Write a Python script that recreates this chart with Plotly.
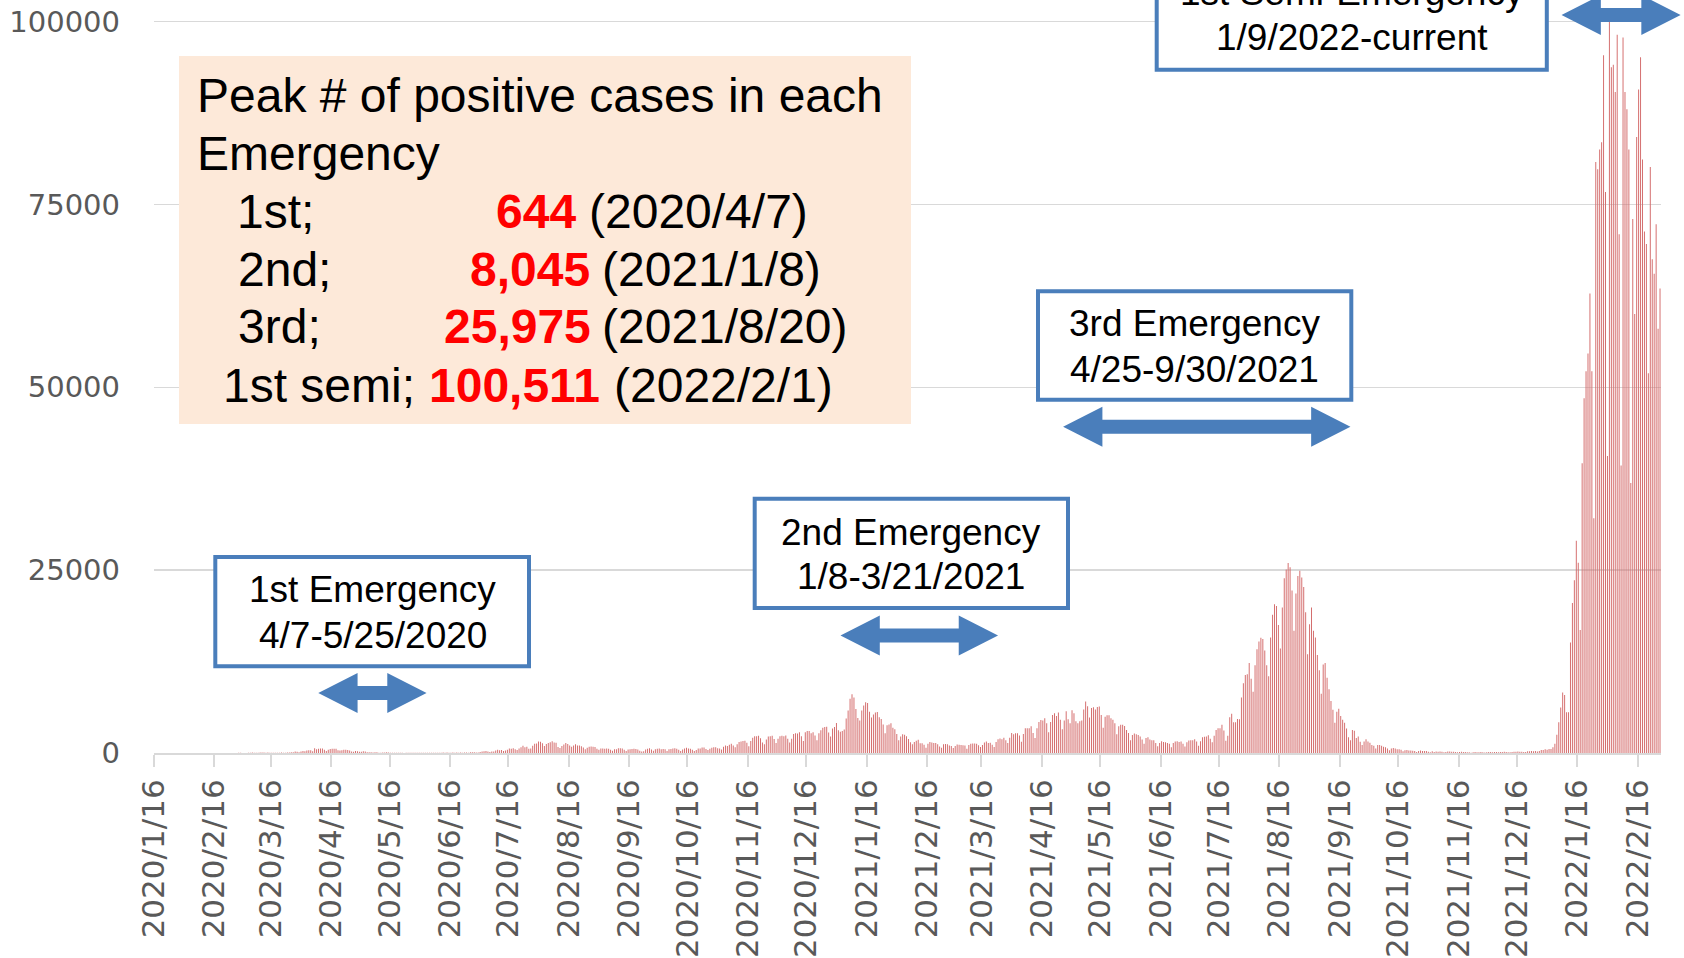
import pandas as pd
import plotly.graph_objects as go

# ---------------- data (daily new positive cases) ----------------
cases_2020_01 = [1, 0, 0, 0, 0, 0, 0, 0, 1, 1, 0, 0, 1, 2, 0, 1]  # from 2020-01-16
cases_2020_02 = [3, 0, 0, 1, 0, 2, 0, 0, 1, 0, 0, 1, 4, 5, 7, 8, 6, 6, 9, 10, 12, 8, 6, 12, 14, 12, 14, 23, 19]
cases_2020_03 = [16, 15, 14, 30, 33, 59, 40, 30, 28, 52, 54, 56, 40, 64, 32, 30, 41, 41, 38, 36, 53, 39, 40, 65, 71, 98, 112, 201, 168, 86, 220]
cases_2020_04 = [265, 235, 351, 367, 383, 252, 644, 511, 575, 600, 620, 460, 285, 457, 548, 574, 590, 568, 372, 354, 370, 442, 437, 410, 353, 210, 184, 278, 228, 187]
cases_2020_05 = [167, 246, 189, 110, 94, 116, 72, 94, 110, 50, 47, 72, 55, 95, 56, 43, 26, 32, 40, 37, 23, 28, 17, 25, 21, 24, 37, 43, 38, 37, 27]
cases_2020_06 = [40, 51, 36, 40, 38, 37, 41, 21, 42, 35, 41, 55, 44, 72, 46, 28, 52, 43, 68, 40, 55, 38, 58, 57, 49, 107, 105, 100, 73, 85]
cases_2020_07 = [127, 196, 250, 274, 210, 150, 207, 208, 356, 428, 390, 407, 259, 330, 457, 622, 592, 666, 510, 418, 631, 794, 981, 781, 838, 597, 600, 985, 1264, 1301, 1580]
cases_2020_08 = [1536, 1332, 963, 1237, 1356, 1483, 1595, 1443, 1415, 818, 696, 966, 1176, 1360, 1227, 1027, 856, 1012, 1180, 1036, 1009, 934, 735, 497, 708, 862, 896, 838, 827, 573, 440]
cases_2020_09 = [627, 601, 595, 612, 579, 445, 297, 504, 498, 651, 644, 616, 437, 269, 491, 525, 539, 592, 549, 469, 316, 205, 223, 477, 571, 651, 476, 297, 518, 591]
cases_2020_10 = [626, 523, 552, 501, 282, 496, 545, 611, 656, 567, 461, 264, 474, 617, 702, 623, 587, 431, 289, 421, 620, 601, 750, 761, 535, 398, 573, 703, 802, 769, 666]
cases_2020_11 = [610, 490, 850, 1030, 940, 1130, 1250, 1010, 780, 1200, 1500, 1580, 1650, 1680, 1400, 930, 1640, 2100, 2280, 2300, 2350, 2000, 1450, 1180, 1850, 2250, 2300, 2350, 1900, 1350]
cases_2020_12 = [1950, 2300, 2350, 2300, 2400, 1950, 1450, 1950, 2600, 2700, 2650, 2850, 2300, 1650, 2850, 3000, 3000, 2700, 2850, 2400, 1750, 2700, 3100, 3450, 3550, 3600, 2800, 2250, 3350, 3550, 4100]
cases_2021_01 = [3100, 2900, 3000, 3200, 4700, 5800, 7400, 8045, 7600, 6000, 4800, 4450, 5800, 6500, 6950, 6850, 5650, 4850, 5250, 5550, 5600, 4900, 4650, 3900, 2700, 3800, 3900, 4050, 3450, 3250, 2600]
cases_2021_02 = [1750, 2250, 2550, 2500, 2300, 1900, 1480, 1180, 1520, 1660, 1820, 1320, 1320, 1120, 730, 1280, 1500, 1420, 1370, 1350, 1180, 880, 730, 1180, 1240, 1180, 1030, 960]
cases_2021_03 = [680, 970, 1150, 1140, 1080, 1050, 1040, 590, 1110, 1280, 1300, 1300, 1260, 1060, 820, 1110, 1450, 1570, 1380, 1400, 1120, 810, 1490, 1870, 1970, 1870, 2070, 1750, 1360, 2070, 2750]
cases_2021_04 = [2550, 2700, 2700, 2400, 1540, 2600, 3400, 3400, 3400, 3650, 2730, 2060, 3400, 4250, 4500, 4450, 4750, 4050, 2850, 4250, 5200, 5450, 5050, 5550, 4550, 3250, 4450, 5700, 4600, 4050]
cases_2021_05 = [5850, 5450, 4350, 4050, 4350, 4450, 5950, 7050, 6400, 4850, 6150, 6250, 5950, 6300, 6350, 5200, 3450, 4950, 5150, 5150, 4750, 4550, 4050, 2550, 3650, 3850, 3850, 3700, 3150, 2750, 1750]
cases_2021_06 = [2450, 2650, 2550, 2450, 2250, 1850, 1270, 2050, 2150, 1850, 1750, 1750, 1370, 910, 1370, 1610, 1510, 1460, 1370, 1270, 780, 1370, 1560, 1610, 1510, 1560, 1270, 880, 1460, 1710]
cases_2021_07 = [1750, 1740, 1880, 1580, 990, 1610, 2160, 2220, 2250, 2420, 1950, 1480, 2370, 3150, 3400, 3400, 3850, 3080, 1660, 2350, 4900, 5350, 4200, 4200, 4650, 4600, 7600, 9550, 10650, 10750, 12300]
cases_2021_08 = [10150, 8380, 12000, 14200, 15250, 15750, 15600, 14000, 12000, 10500, 15800, 18900, 20350, 20100, 17500, 14300, 19900, 23900, 25100, 25975, 25400, 22200, 16700, 21800, 24200, 24900, 24000, 22700, 19250, 13500, 17600]
cases_2021_09 = [19900, 16700, 15800, 13400, 11300, 8100, 12100, 12300, 10300, 8700, 7100, 5900, 4150, 5650, 6050, 5050, 4550, 4150, 3350, 2150, 1750, 3150, 3050, 2050, 2250, 1550, 1080, 1580, 1880, 1580]
cases_2021_10 = [1410, 1090, 990, 600, 1090, 1110, 990, 860, 800, 600, 370, 600, 700, 620, 510, 500, 430, 230, 390, 400, 350, 330, 320, 260, 150, 270, 340, 280, 280, 260, 160]
cases_2021_11 = [86, 240, 150, 200, 170, 200, 160, 100, 150, 200, 200, 180, 170, 130, 90, 140, 170, 130, 140, 100, 100, 50, 100, 130, 110, 110, 130, 100, 80, 100]
cases_2021_12 = [130, 120, 100, 130, 120, 110, 130, 130, 160, 140, 100, 90, 130, 170, 160, 190, 180, 160, 140, 120, 250, 230, 280, 250, 280, 200, 260, 400, 400, 500, 450]
cases_2022_01 = [535, 553, 782, 1265, 2490, 4190, 6230, 8280, 7940, 5560, 5560, 15100, 20500, 23600, 29000, 26000, 16800, 39600, 48500, 52200, 54600, 62800, 52200, 32100, 80800, 79800, 82500, 83500, 95400, 76700, 40600]
cases_2022_02 = [100511, 93750, 94100, 90350, 98200, 70900, 39300, 97800, 90350, 88000, 82500, 36900, 73000, 60000, 84200, 90700, 95100, 81150, 71300, 69600, 51900, 80100, 67500, 65500, 72300, 58000, 63500]

month_starts = ["2020-01-16", "2020-02-01", "2020-03-01", "2020-04-01", "2020-05-01", "2020-06-01",
                "2020-07-01", "2020-08-01", "2020-09-01", "2020-10-01", "2020-11-01", "2020-12-01",
                "2021-01-01", "2021-02-01", "2021-03-01", "2021-04-01", "2021-05-01", "2021-06-01",
                "2021-07-01", "2021-08-01", "2021-09-01", "2021-10-01", "2021-11-01", "2021-12-01",
                "2022-01-01", "2022-02-01"]
monthly_cases = [cases_2020_01, cases_2020_02, cases_2020_03, cases_2020_04, cases_2020_05, cases_2020_06,
                 cases_2020_07, cases_2020_08, cases_2020_09, cases_2020_10, cases_2020_11, cases_2020_12,
                 cases_2021_01, cases_2021_02, cases_2021_03, cases_2021_04, cases_2021_05, cases_2021_06,
                 cases_2021_07, cases_2021_08, cases_2021_09, cases_2021_10, cases_2021_11, cases_2021_12,
                 cases_2022_01, cases_2022_02]

x_tick_dates = ["2020-01-16", "2020-02-16", "2020-03-16", "2020-04-16", "2020-05-16", "2020-06-16",
                "2020-07-16", "2020-08-16", "2020-09-16", "2020-10-16", "2020-11-16", "2020-12-16",
                "2021-01-16", "2021-02-16", "2021-03-16", "2021-04-16", "2021-05-16", "2021-06-16",
                "2021-07-16", "2021-08-16", "2021-09-16", "2021-10-16", "2021-11-16", "2021-12-16",
                "2022-01-16", "2022-02-16"]
x_tick_labels = ["2020/1/16", "2020/2/16", "2020/3/16", "2020/4/16", "2020/5/16", "2020/6/16",
                 "2020/7/16", "2020/8/16", "2020/9/16", "2020/10/16", "2020/11/16", "2020/12/16",
                 "2021/1/16", "2021/2/16", "2021/3/16", "2021/4/16", "2021/5/16", "2021/6/16",
                 "2021/7/16", "2021/8/16", "2021/9/16", "2021/10/16", "2021/11/16", "2021/12/16",
                 "2022/1/16", "2022/2/16"]
y_tick_values = [0, 25000, 50000, 75000, 100000]
y_tick_labels = ["0", "25000", "50000", "75000", "100000"]

peak_title = ["Peak # of positive cases in each", "Emergency"]
peak_labels = ["1st;", "2nd;", "3rd;", "1st semi;"]
peak_values = ["644", "8,045", "25,975", "100,511"]
peak_dates = ["(2020/4/7)", "(2021/1/8)", "(2021/8/20)", "(2022/2/1)"]

emergency_titles = ["1st Emergency", "2nd Emergency", "3rd Emergency", "1st Semi-Emergency"]
emergency_periods = ["4/7-5/25/2020", "1/8-3/21/2021", "4/25-9/30/2021", "1/9/2022-current"]
arrow_starts = ["2020-04-09 09:00", "2021-01-02 14:00", "2021-04-26 22:00", "2022-01-07 22:00"]
arrow_ends = ["2020-06-04 00:00", "2021-03-24 12:00", "2021-09-21 12:00", "2022-03-10 02:00"]

# ---------------- build series ----------------
dates, values = [], []
for start, vals in zip(month_starts, monthly_cases):
    dates.extend(pd.date_range(start, periods=len(vals), freq="D"))
    values.extend(vals)

# ---------------- geometry (pixels) ----------------
W, H = 1684, 958
PL, PR, PT, PB = 154, 1661, 0, 753
X_RANGE = ["2020-01-16", "2022-02-28"]
Y_MAX = 102940

t0 = pd.Timestamp(X_RANGE[0])
t1 = pd.Timestamp(X_RANGE[1])


def fx(px):
    return (px - PL) / (PR - PL)


def fy(py):
    return (PB - py) / (PB - PT)


def date_px(d):
    return PL + (pd.Timestamp(d) - t0) / (t1 - t0) * (PR - PL)


fig = go.Figure()
fig.add_trace(go.Bar(
    x=dates, y=values,
    xperiod=86400000, xperiodalignment="middle",
    marker=dict(color="#d46c6c", line=dict(width=0)),
    hoverinfo="x+y",
))

Y_FONT = dict(family="DejaVu Sans", size=29, color="#595959")
X_FONT = dict(family="DejaVu Sans", size=31, color="#595959")
TXT = "Liberation Sans, Arial, sans-serif"

shapes = []
annotations = []

# peach summary box
shapes.append(dict(type="rect", xref="paper", yref="paper",
                   x0=fx(179), x1=fx(911), y0=fy(424), y1=fy(56),
                   fillcolor="#fde9d9", line=dict(width=0), layer="above"))

title_y = [95.5, 153]
for txt, yy in zip(peak_title, title_y):
    annotations.append(dict(xref="paper", yref="paper", x=fx(195), y=fy(yy), text=txt,
                            xanchor="left", yanchor="middle", showarrow=False,
                            font=dict(family=TXT, size=48, color="black")))
row_y = [212, 269, 326.5, 385.5]
row_label_x = [235, 236, 235.5, 220.5]
row_num_x = [494, 467.5, 441.5, 427]
row_date_x = [587, 600, 600, 612]
for i in range(4):
    annotations.append(dict(xref="paper", yref="paper", x=fx(row_label_x[i]), y=fy(row_y[i]),
                            text=peak_labels[i], xanchor="left", yanchor="middle", showarrow=False,
                            font=dict(family=TXT, size=48, color="black")))
    annotations.append(dict(xref="paper", yref="paper", x=fx(row_num_x[i]), y=fy(row_y[i]),
                            text="<b>" + peak_values[i] + "</b>", xanchor="left", yanchor="middle",
                            showarrow=False, font=dict(family=TXT, size=48, color="#ff0000")))
    annotations.append(dict(xref="paper", yref="paper", x=fx(row_date_x[i]), y=fy(row_y[i]),
                            text=peak_dates[i], xanchor="left", yanchor="middle", showarrow=False,
                            font=dict(family=TXT, size=48, color="black")))

# emergency boxes (left, right, top, bottom of the line centre) and text lines
boxes = [(215.3, 529, 557, 666.3), (754.7, 1068, 498.7, 608), (1038, 1351.3, 291.3, 399.7),
         (1156.7, 1546.8, -80, 69.7)]
text_cx = [372.5, 910.5, 1194, 1352]
text_y1 = [589.5, 532.5, 324, -7.3]
text_y2 = [635.5, 576.5, 369, 38]
BLUE = "#4a7ebb"
for i, (l, r, t, b) in enumerate(boxes):
    shapes.append(dict(type="rect", xref="paper", yref="paper",
                       x0=fx(l), x1=fx(r), y0=fy(b), y1=fy(t),
                       fillcolor="white", line=dict(color=BLUE, width=4), layer="above"))
    annotations.append(dict(xref="paper", yref="paper", x=fx(text_cx[i]), y=fy(text_y1[i]),
                            text=emergency_titles[i], xanchor="center", yanchor="middle",
                            showarrow=False, font=dict(family=TXT, size=37, color="black")))
    annotations.append(dict(xref="paper", yref="paper", x=fx(text_cx[i]), y=fy(text_y2[i]),
                            text=emergency_periods[i], xanchor="center", yanchor="middle",
                            showarrow=False, font=dict(family=TXT, size=37, color="black")))

# double arrows
arrow_y = [693, 635.5, 426.7, 15]


def arrow_path(xl, xr, yc, hl=39.3, hh=20, sh=7):
    pts = [(xl, yc), (xl + hl, yc - hh), (xl + hl, yc - sh), (xr - hl, yc - sh), (xr - hl, yc - hh),
           (xr, yc), (xr - hl, yc + hh), (xr - hl, yc + sh), (xl + hl, yc + sh), (xl + hl, yc + hh)]
    return "M " + " L ".join(f"{fx(px):.6f},{fy(py):.6f}" for px, py in pts) + " Z"


for s, e, yc in zip(arrow_starts, arrow_ends, arrow_y):
    shapes.append(dict(type="path", xref="paper", yref="paper",
                       path=arrow_path(date_px(s), date_px(e), yc),
                       fillcolor=BLUE, line=dict(width=0), layer="above"))

fig.update_layout(
    width=W, height=H, autosize=False,
    margin=dict(l=PL, r=W - PR, t=PT, b=H - PB, pad=0),
    paper_bgcolor="white", plot_bgcolor="white",
    showlegend=False, bargap=0.5,
    xaxis=dict(type="date", range=X_RANGE, tickmode="array", tickvals=x_tick_dates,
               ticktext=x_tick_labels, tickangle=-90, ticks="outside", ticklen=12, tickwidth=2,
               tickcolor="#d9d9d9", showline=True, linecolor="#d9d9d9", linewidth=2,
               showgrid=False, zeroline=False, tickfont=X_FONT, automargin=False),
    yaxis=dict(range=[0, Y_MAX], tickmode="array", tickvals=y_tick_values, ticktext=y_tick_labels,
               showgrid=True, gridcolor="#d9d9d9", gridwidth=1.5, zeroline=False, showline=False,
               ticks="", tickfont=Y_FONT, ticklabelstandoff=33, automargin=False),
    shapes=shapes, annotations=annotations,
)

fig.write_html("out.html", config={"displayModeBar": False, "staticPlot": True},
               post_script="document.body.style.margin='0';document.body.style.overflow='hidden';")
